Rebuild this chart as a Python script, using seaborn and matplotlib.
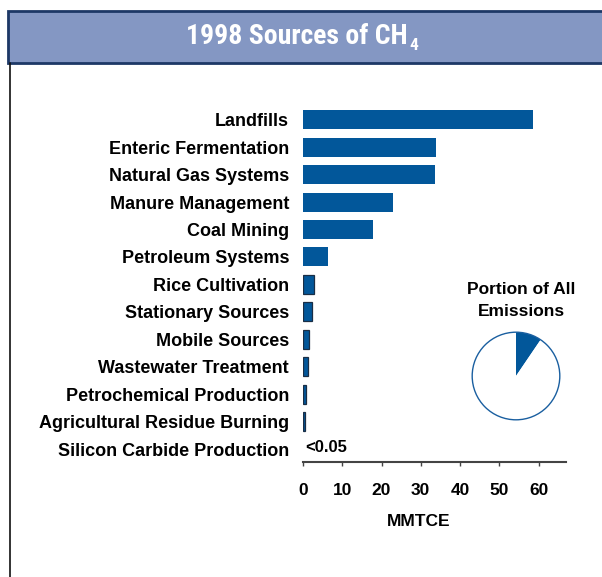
import matplotlib
matplotlib.use("Agg")
import matplotlib.pyplot as plt
import seaborn as sns
import pandas as pd
from matplotlib.patches import Rectangle, Circle

categories = ["Landfills", "Enteric Fermentation", "Natural Gas Systems", "Manure Management",
              "Coal Mining", "Petroleum Systems", "Rice Cultivation", "Stationary Sources",
              "Mobile Sources", "Wastewater Treatment", "Petrochemical Production",
              "Agricultural Residue Burning", "Silicon Carbide Production"]
values = [58.7, 33.9, 33.7, 23.0, 17.9, 6.4, 2.7, 2.3, 1.6, 1.2, 0.7, 0.4, 0.0]
xticks = [0, 10, 20, 30, 40, 50, 60]
pie_share = [9.5, 90.5]
small_label = "<0.05"

sns.set_theme(style="white")
plt.rcParams['font.family'] = ['Liberation Sans', 'DejaVu Sans']
plt.rcParams['text.color'] = 'black'
plt.rcParams['xtick.color'] = 'black'
plt.rcParams['ytick.color'] = 'black'
plt.rcParams['axes.labelcolor'] = 'black'

BLUE = '#02579A'
W, H = 602, 577
fig = plt.figure(figsize=(W / 100, H / 100), dpi=100)

# banner
fig.patches.append(Rectangle((8 / W, 1 - 63 / H), 1.0, 52 / H, transform=fig.transFigure,
                             facecolor='#8497C3', edgecolor='#1d3866', linewidth=2, zorder=0))
fig.add_artist(plt.Line2D([10 / W, 10 / W], [0, 1 - 63 / H], transform=fig.transFigure,
                          color='#111111', linewidth=1.2))
title_fam = ['Roboto Condensed', 'Liberation Sans Narrow', 'Roboto', 'DejaVu Sans']
fig.text(408 / W, 1 - 37 / H, "1998 Sources of CH", color='white', fontsize=20,
         fontweight='bold', ha='right', va='center', family=title_fam)
fig.text(409 / W, 1 - 46 / H, "4", color='white', fontsize=12.5, fontweight='bold',
         ha='left', va='center', family=title_fam)

# bar chart
df = pd.DataFrame({"source": categories, "value": values})
ax = fig.add_axes([303 / W, 1 - 462 / H, 263 / W, 356 / H])
sns.barplot(data=df, x="value", y="source", ax=ax, color=BLUE, saturation=1, width=0.69,
            orient='h')
for p, v in zip(ax.patches, values):
    if 0 < v < 5:
        p.set_edgecolor('#1a2e45')
        p.set_linewidth(0.9)
    else:
        p.set_edgecolor(BLUE)
        p.set_linewidth(0)
ax.set_xlim(0, 67)
ax.set_ylim(12.47, -0.5)
ax.set_xticks(xticks)
ax.set_xticklabels([str(t) for t in xticks], fontsize=12.5, fontweight='bold')
ax.tick_params(axis='x', direction='out', length=3, width=1, color='#444444', pad=12,
               bottom=True)
ax.tick_params(axis='y', length=0, pad=10)
for lab in ax.get_yticklabels():
    lab.set_fontsize(13)
    lab.set_fontweight('bold')
ax.set_ylabel("")
ax.set_xlabel("MMTCE", fontsize=12.5, fontweight='bold')
ax.xaxis.set_label_coords(0.44, -0.145)
for s in ['top', 'right', 'left']:
    ax.spines[s].set_visible(False)
ax.spines['bottom'].set_color('#444444')
ax.spines['bottom'].set_linewidth(1.5)
ax.text(0.5, 11.95, small_label, fontsize=12, fontweight='bold', va='center', ha='left')

# pie
fig.text(521 / W, 1 - 290 / H, "Portion of All", fontsize=12.5, fontweight='bold', ha='center', va='center')
fig.text(521 / W, 1 - 311 / H, "Emissions", fontsize=12.5, fontweight='bold', ha='center', va='center')
pax = fig.add_axes([470 / W, 1 - 422 / H, 92 / W, 92 / H])
pax.pie(pie_share, colors=[BLUE, 'white'], startangle=90, counterclock=False,
        radius=1.0, wedgeprops=dict(linewidth=0))
pax.add_patch(Circle((0, 0), 1.0, fill=False, edgecolor='#1a5fa0', linewidth=1))
pax.set_xlim(-1.05, 1.05)
pax.set_ylim(-1.05, 1.05)
pax.set_aspect('equal')
pax.axis('off')

fig.savefig("out.png", dpi=100)
